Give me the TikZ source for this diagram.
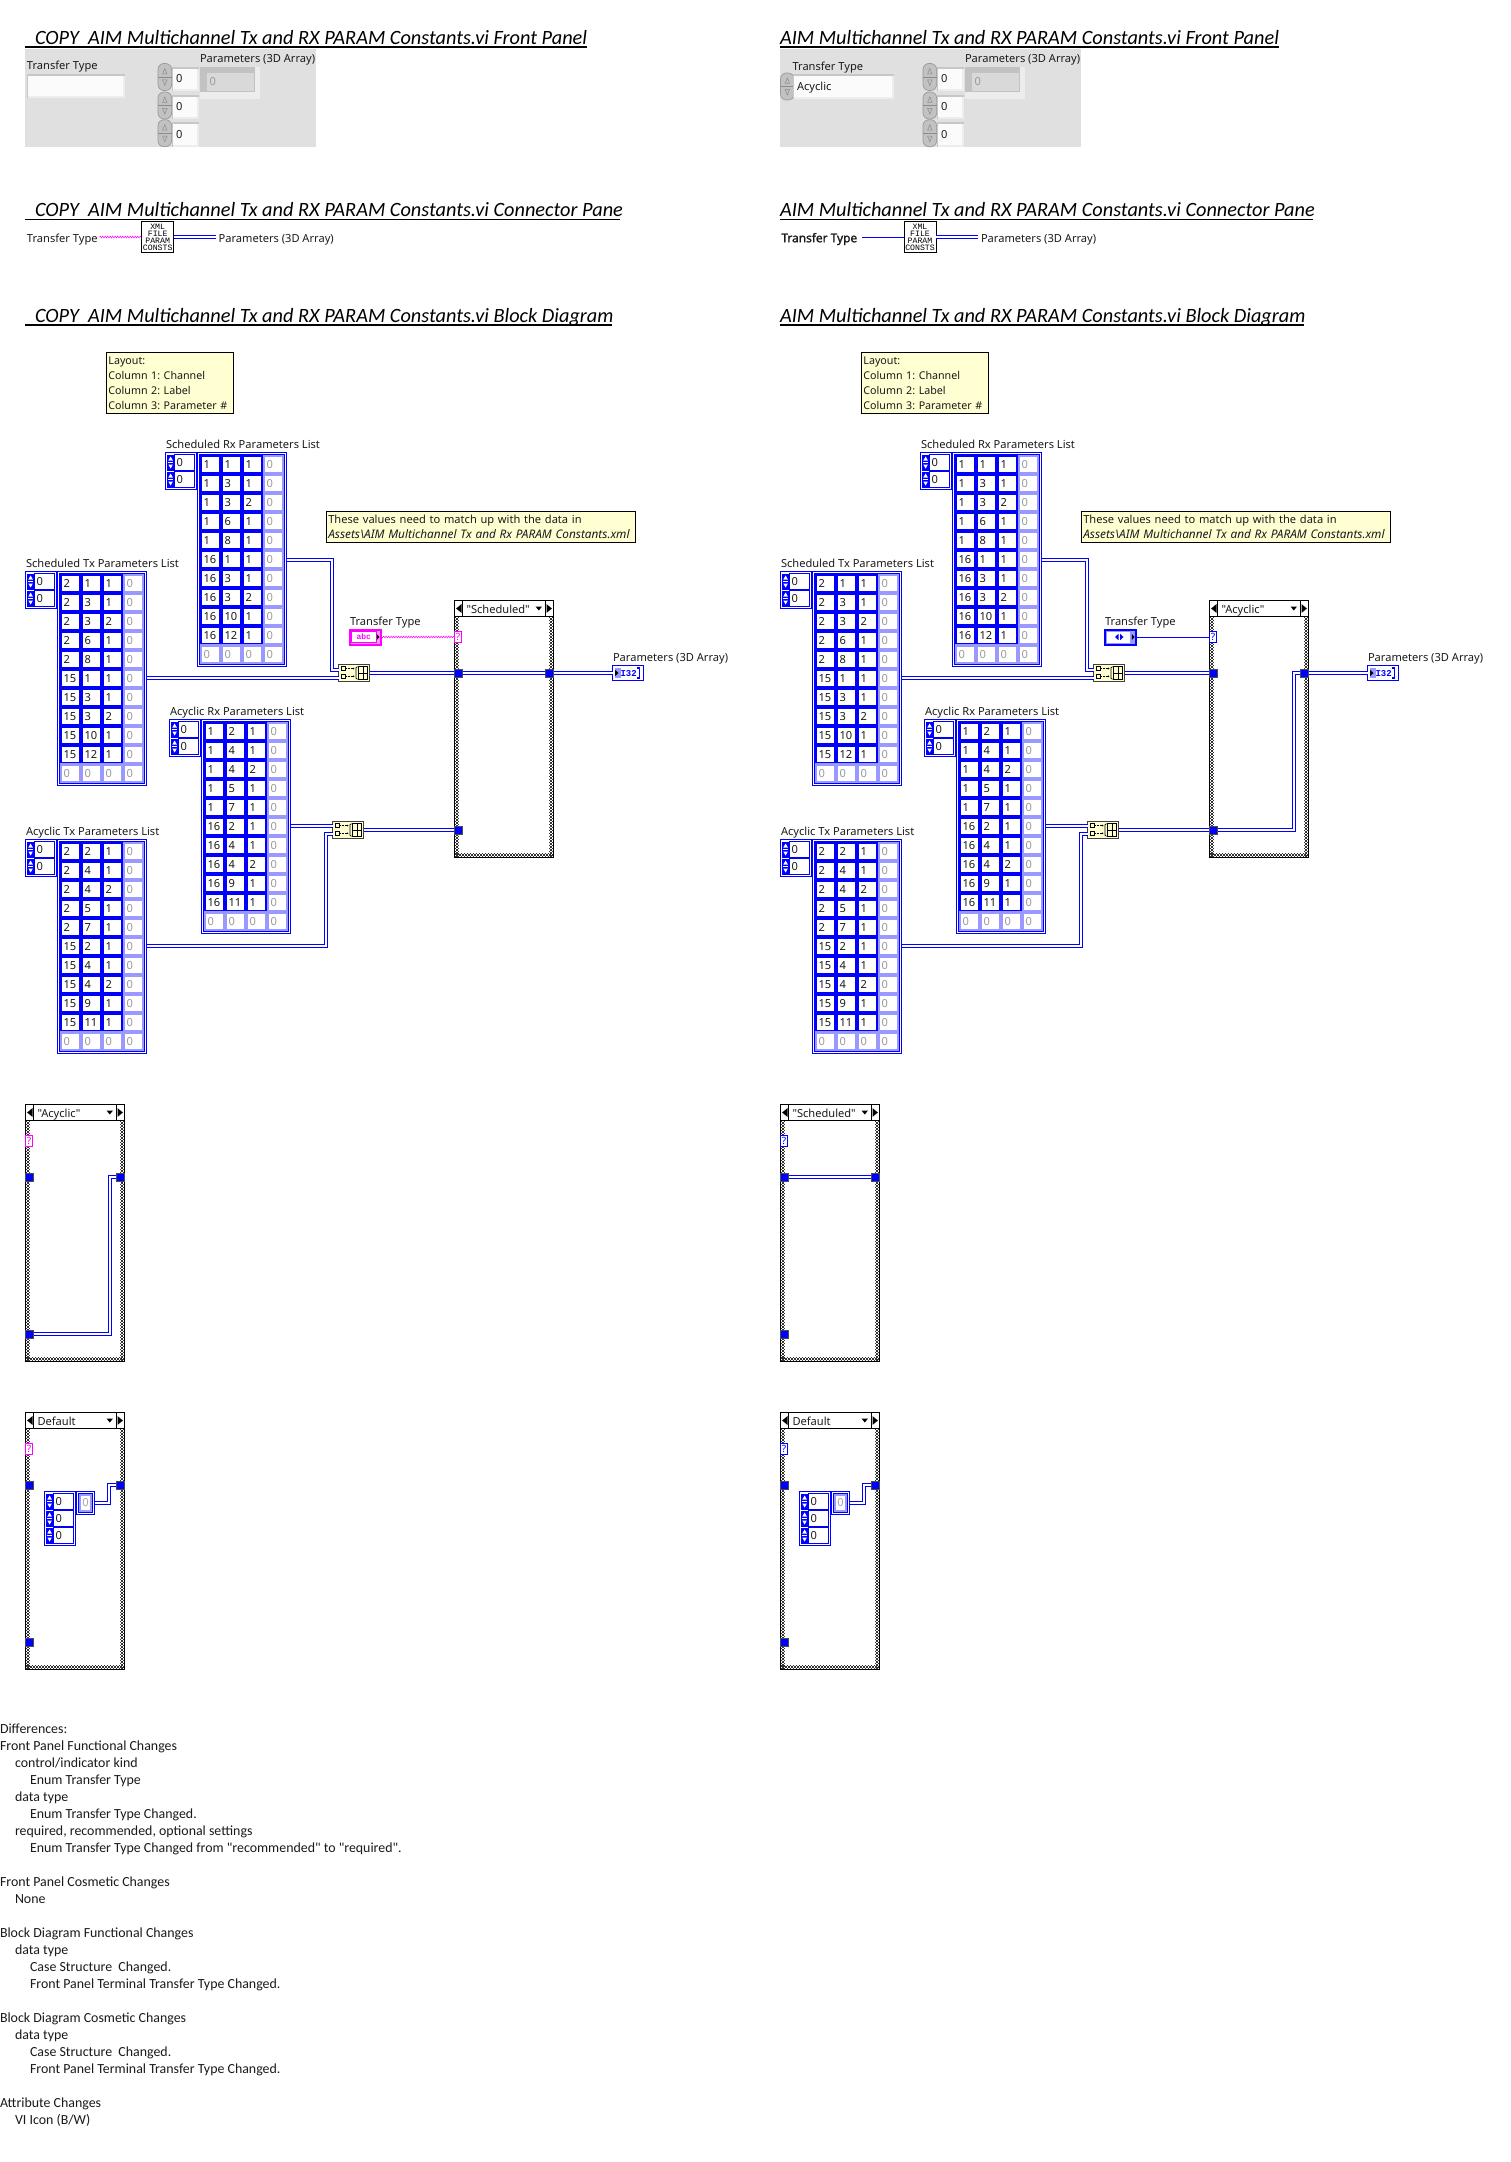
\documentclass[tikz,border=0pt]{standalone}
\usepackage{fontspec}
\newfontfamily\lvf{Noto Sans}
\newfontfamily\lvbf[FakeBold=1.6]{Noto Sans}
\newfontfamily\calf{Carlito}
\newfontfamily\monof{Liberation Mono}
\AtBeginDocument{\frenchspacing}
\usetikzlibrary{decorations.pathmorphing}
\definecolor{lvb}{HTML}{0000FF}
\definecolor{lvl}{HTML}{9999FF}
\definecolor{lvp}{HTML}{FF00FF}
\definecolor{lvpl}{HTML}{FF99FF}
\definecolor{lvy}{HTML}{FFFFD2}
\definecolor{lvt}{HTML}{1A1A1A}
\definecolor{fpg}{HTML}{E0E0E0}
\tikzset{
 wire/.style={draw=lvb,line width=1pt,double=white,double distance=2pt},
 swire/.style={draw=lvb,line width=1pt},
 pwire/.style={draw=lvp,line width=.5pt,decorate,decoration={zigzag,amplitude=.9pt,segment length=2.5pt}},
 lab/.style={inner sep=0pt,outer sep=0pt,font=\lvf\fontsize{11.1}{13}\selectfont,text=lvt},
 ttl/.style={inner sep=0pt,outer sep=0pt,anchor=base west,font=\calf\itshape\fontsize{20.3}{24}\selectfont,text=black},
 diff/.style={inner sep=0pt,outer sep=0pt,anchor=base west,font=\calf\fontsize{13.9}{17}\selectfont,text=lvt},
 cellb/.style={anchor=north west,fill=white,inner xsep=1.5pt,inner ysep=0pt,outer sep=0pt,text width=14pt,align=left,minimum height=15pt,font=\lvf\fontsize{11.1}{13}\selectfont},
 note/.style={draw=black,line width=1pt,fill=lvy,anchor=north west,inner sep=0pt,outer sep=0pt,align=left,font=\lvf\fontsize{11.1}{15}\selectfont,text=lvt},
 tunnel/.style={fill=black!70},
 uline/.style={draw=black,line width=1.6pt},
 chk/.style={black!80,line width=1.5pt,dash pattern=on 1.5pt off 1.5pt},
}
\newcommand\bx[7][]{\node[#7,inner sep=0pt,outer sep=0pt,anchor=north west,minimum width={((#5)-(#3))*1pt},minimum height={((#6)-(#4))*1pt}] (#2) at ({#3},{#4}) {#1};}
\newcommand\lab[4]{\node[lab,anchor=base west] (#1) at ({#2},{(#3)+4.4}) {#4};}
% array constant: name, x0, y0, rows
\newcommand\lvarray[4]{%
 \bx{#1}{#2}{#3}{(#2)+89}{(#3)+214}{fill=white,draw=lvb,line width=1pt}
 \fill[lvb] ({#2+1.5},{#3+1.5}) rectangle ({#2+87.5},{#3+212.5});
 \fill[lvl] ({#2+2.5},{#3+2.5}) rectangle ({#2+86.5},{#3+211.5});
 \fill[lvb] ({#2+2.5},{#3+2.5}) rectangle ({#2+65.5},{#3+191.5});
 \foreach \va/\vb/\vc [count=\r from 0] in {#4}{
   \node[cellb,text=lvt] (#1-\r-a) at ({#2+4.5},{#3+4.5+19*\r}) {\va};
   \node[cellb,text=lvt] (#1-\r-b) at ({#2+25.5},{#3+4.5+19*\r}) {\vb};
   \node[cellb,text=lvt] (#1-\r-c) at ({#2+46.5},{#3+4.5+19*\r}) {\vc};
   \node[cellb,text=black!40] (#1-\r-d) at ({#2+67.5},{#3+4.5+19*\r}) {0};
 }
 \node[cellb,text=black!40] (#1-z-a) at ({#2+4.5},{#3+194.5}) {0};
 \node[cellb,text=black!40] (#1-z-b) at ({#2+25.5},{#3+194.5}) {0};
 \node[cellb,text=black!40] (#1-z-c) at ({#2+46.5},{#3+194.5}) {0};
 \node[cellb,text=black!40] (#1-z-d) at ({#2+67.5},{#3+194.5}) {0};
}
% index display: name, x, y, rows
\newcommand\lvindex[4]{%
 \bx{#1}{#2}{#3}{(#2)+31}{(#3)+17*(#4)+3}{fill=white,draw=lvb,line width=1pt}
 \pgfmathtruncatemacro\nm{#4-1}
 \foreach \r in {0,...,\nm}{
   \pgfmathsetmacro\ry{#3+2+17*\r}
   \bx{#1r\r}{(#2)+9}{\ry}{(#2)+29}{\ry+16}{fill=white,draw=lvb,line width=1pt}
   \fill[lvb] ({#2+1.5},{\ry}) rectangle ({#2+9},{\ry+16});
   \fill[white] ({#2+5.1},{\ry+2}) -- ({#2+7.4},{\ry+6}) -- ({#2+2.8},{\ry+6}) -- cycle;
   \fill[white] ({#2+5.1},{\ry+14}) -- ({#2+7.4},{\ry+10}) -- ({#2+2.8},{\ry+10}) -- cycle;
   \fill[white] ({#2+2.8},{\ry+7.5}) rectangle ({#2+7.4},{\ry+8.5});
   \lab{#1t\r}{#2+11}{\ry+8}{0}
 }
}
% case structure: name,x1,y1,x2,y2,label
\newcommand\lvcase[6]{%
 \bx{#1}{#2}{#3}{#4}{#5}{fill=white}
 \foreach \o/\ph in {0/0pt,1/1.5pt,2/0pt}{
  \draw[chk,dash phase=\ph] ({#2+1+1.5*\o},{#3+16}) -- ({#2+1+1.5*\o},{#5});
  \draw[chk,dash phase=\ph] ({#4-1-1.5*\o},{#3+16}) -- ({#4-1-1.5*\o},{#5});
  \draw[chk,dash phase=\ph] ({#2},{#5-1-1.5*\o}) -- ({#4},{#5-1-1.5*\o});
 }
 \draw[black,line width=1pt] (#1.north west) rectangle (#1.south east);
 \draw[black,line width=1pt] ({#2},{#3+16}) -- ({#4},{#3+16});
 \draw[black,line width=1pt] ({#2+8},{#3}) -- ({#2+8},{#3+16});
 \draw[black,line width=1pt] ({#4-8},{#3}) -- ({#4-8},{#3+16});
 \fill[black] ({#2+1.6},{#3+8}) -- ({#2+7},{#3+3.6}) -- ({#2+7},{#3+12.4}) -- cycle;
 \fill[black] ({#4-1.6},{#3+8}) -- ({#4-7},{#3+3.6}) -- ({#4-7},{#3+12.4}) -- cycle;
 \fill[black] ({#4-18},{#3+6}) -- ({#4-11.5},{#3+6}) -- ({#4-14.7},{#3+10}) -- cycle;
 \lab{#1l}{#2+12}{#3+8.2}{#6}
}
\newcommand\lvbuild[3]{%
 \bx{#1}{#2}{#3}{(#2)+31}{(#3)+17}{fill=lvy,draw=black!75,line width=1pt}
 \draw[black,line width=.7pt] ({#2+3},{#3+2.2}) rectangle ++(3.6,3.6);
 \draw[black,line width=.7pt] ({#2+3},{#3+10}) rectangle ++(3.6,3.6);
 \draw[black,line width=.6pt,densely dotted] ({#2+7.5},{#3+4}) -- ({#2+14.5},{#3+4});
 \draw[black,line width=.6pt,densely dotted] ({#2+7.5},{#3+11.8}) -- ({#2+14.5},{#3+11.8});
 \fill[black] ({#2+16},{#3+4}) -- ({#2+14.5},{#3+3}) -- ({#2+14.5},{#3+5}) -- cycle;
 \fill[black] ({#2+16},{#3+11.8}) -- ({#2+14.5},{#3+10.8}) -- ({#2+14.5},{#3+12.8}) -- cycle;
 \draw[black,line width=.7pt] ({#2+19},{#3+2.2}) -- ({#2+17.5},{#3+3.2}) -- ({#2+17.5},{#3+13.8}) -- ({#2+19},{#3+14.8});
 \draw[black,line width=.7pt] ({#2+20},{#3+1.7}) rectangle ({#2+29},{#3+15.3});
 \draw[black,line width=.7pt] ({#2+24.5},{#3+1.7}) -- ({#2+24.5},{#3+15.3});
 \draw[black,line width=.7pt] ({#2+20},{#3+8.5}) -- ({#2+29},{#3+8.5});
}
% front panel parts
\newcommand\fpbox[5]{%
 \bx{#1}{#2}{#3}{#4}{#5}{fill=black!7}
 \fill[black!22] ({#2},{#3}) rectangle ({#4},{#3+2});
 \fill[black!22] ({#2},{#3}) rectangle ({#2+1.2},{#5});
 \fill[black!1.5] ({#2+1.2},{#3+2}) rectangle ({#4-2},{#5-2});
}
\newcommand\fpspin[3]{%
 \bx{#1}{#2}{#3}{(#2)+13.6}{(#3)+27}{fill=black!24,draw=black!40,line width=.7pt,rounded corners=6pt}
 \draw[black!45,line width=.5pt] ({#2},{#3+13.5}) -- ({#2+13.6},{#3+13.5});
 \draw[black!45,line width=.5pt] ({#2+6.8},{#3+5}) -- ({#2+9},{#3+10.5}) -- ({#2+4.6},{#3+10.5}) -- cycle;
 \draw[black!45,line width=.5pt] ({#2+6.8},{#3+22}) -- ({#2+9},{#3+16.5}) -- ({#2+4.6},{#3+16.5}) -- cycle;
}
\newcommand\fparray[3]{% prefix, dx from left position, dummy
 \fpspin{#1s1}{158+#2}{63.5}\fpspin{#1s2}{158+#2}{92}\fpspin{#1s3}{158+#2}{119.7}
 \fpbox{#1b1}{171.7+#2}{66.7}{199+#2}{90.7}
 \fpbox{#1b2}{171.7+#2}{95}{199+#2}{118.7}
 \fpbox{#1b3}{171.7+#2}{122}{199+#2}{146.7}
 \lab{#1z1}{176+#2}{78.5}{0}\lab{#1z2}{176+#2}{106.5}{0}\lab{#1z3}{176+#2}{134.5}{0}
 \bx{#1e}{199.7+#2}{66.7}{259.7+#2}{98.7}{fill=black!7}
 \fill[black!24] ({199.7+#2},{66.7}) rectangle ({255+#2},{92});
 \fill[black!15] ({206.5+#2},{73}) rectangle ({254+#2},{90.7});
 \node[lab,anchor=base west,text=black!40] (#1ez) at ({209.5+#2},{86}) {0};
 \lab{#1pl}{200+#2}{58}{Parameters (3D Array)}
}
\newcommand\icon[2]{%
 \node[draw=black,fill=white,line width=1pt,inner sep=0pt,outer sep=0pt,minimum width=32pt,minimum height=31.4pt,anchor=north west,align=center,font=\monof\fontsize{8.2}{7}\selectfont] (#1) at ({#2},221.3) {XML\\FILE\\PARAM\\CONSTS};
}
% common block diagram: prefix, main case label, 2nd case label, ? colour
\newcommand\bdcommon[4]{%
 \node[note,minimum width=126.7pt,minimum height=61.7pt,text width=124pt,inner xsep=1.5pt,font=\lvf\fontsize{10.7}{15}\selectfont] (#1n1) at (106.9,352) {Layout:\\Column 1: Channel\\Column 2: Label\\Column 3: Parameter \#};
 \node[note,minimum width=308.4pt,minimum height=30.6pt,text width=305pt,inner xsep=2pt] (#1n2) at (326.3,511.7) {These values need to match up with the data in\\\itshape\fontsize{11.8}{15}\selectfont Assets\textbackslash AIM Multichannel Tx and Rx PARAM Constants.xml};
 \lab{#1l1}{166}{444}{Scheduled Rx Parameters List}
 \lab{#1l2}{26}{562.7}{Scheduled Tx Parameters List}
 \lab{#1l3}{170}{710.7}{Acyclic Rx Parameters List}
 \lab{#1l4}{26}{831}{Acyclic Tx Parameters List}
 \lvindex{#1i1}{165.5}{452.5}{2}\lvindex{#1i2}{25.5}{571.5}{2}\lvindex{#1i3}{169.5}{719.5}{2}\lvindex{#1i4}{25.5}{839.5}{2}
 \lvarray{#1srx}{197.5}{452.5}{1/1/1,1/3/1,1/3/2,1/6/1,1/8/1,16/1/1,16/3/1,16/3/2,16/10/1,16/12/1}
 \lvarray{#1stx}{57.5}{571.5}{2/1/1,2/3/1,2/3/2,2/6/1,2/8/1,15/1/1,15/3/1,15/3/2,15/10/1,15/12/1}
 \lvarray{#1arx}{201.5}{719.5}{1/2/1,1/4/1,1/4/2,1/5/1,1/7/1,16/2/1,16/4/1,16/4/2,16/9/1,16/11/1}
 \lvarray{#1atx}{57.5}{839.5}{2/2/1,2/4/1,2/4/2,2/5/1,2/7/1,15/2/1,15/4/1,15/4/2,15/9/1,15/11/1}
 \lvbuild{#1ba1}{338.5}{664.5}
 \lvbuild{#1ba2}{332.5}{821.5}
 \lvcase{#1c1}{454.5}{600.5}{553.5}{857.5}{#2}
 \lvcase{#1c2}{25.5}{1104.5}{124.5}{1361.5}{#3}
 \lvcase{#1c3}{25.5}{1412.5}{124.5}{1669.5}{Default}
 \foreach \nn/\ax/\cy in {c1tl/454/673,c1tr/545/673,c1bl/454/830,c2tl/25/1177,c2tr/116/1177,c2bl/25/1334,c3tl/25/1485,c3tr/116/1485,c3bl/25/1642}{
   \bx{#1\nn}{\ax}{\cy-4.5}{\ax+9}{\cy+4.5}{tunnel}
   \fill[lvb] ({\ax+1},{\cy-3.5}) rectangle ({\ax+8},{\cy+3.5});
 }
 \foreach \nn/\ax/\ay in {c1q/454.5/631.5,c2q/25.5/1135.5,c3q/25.5/1443.5}{
   \bx[\textcolor{#4}{\lvf\fontsize{10}{10}\selectfont ?}]{#1\nn}{\ax}{\ay}{\ax+7}{\ay+11}{fill=white,draw=#4,line width=1pt}
 }
 \lab{#1tl}{350}{621}{Transfer Type}
 \lab{#1ol}{613}{656.7}{Parameters (3D Array)}
 \bx{#1ind}{612.5}{665.5}{643.5}{680.5}{fill=white,draw=lvb,line width=1pt}
 \fill[lvl] (615,668) rectangle (620.5,678);
 \fill[black] (618.5,673) -- (615.2,670) -- (615.2,676) -- cycle;
 \node[inner sep=0pt,outer sep=0pt,anchor=base west,font=\monof\bfseries\fontsize{9}{9}\selectfont,text=lvb] (#1indt) at (620.5,676) {I32};
 \draw[lvb,line width=1.2pt] (637,668) -- (639.5,668) -- (639.5,678) -- (637,678);
 % default case constants
 \lvindex{#1di}{44.5}{1491.5}{3}
 \bx{#1da}{76.5}{1491.5}{94.5}{1514.5}{fill=white,draw=lvb,line width=1pt}
 \fill[lvb] (78,1493) rectangle (93,1513);
 \fill[lvl] (79,1494) rectangle (92,1512);
 \node[cellb,text width=9pt,inner xsep=0pt,minimum height=14pt,align=center,text=black!35] (#1daz) at (81,1496) {0};
 % wires
 \coordinate (#1y1) at (332,560);
 \coordinate (#1w1) at (332,670);
 \coordinate (#1ba1i) at (338.5,670);
 \coordinate (#1ba1j) at (338.5,678);
 \coordinate (#1ba2i) at (332.5,826);
 \coordinate (#1y2) at (326,946);
 \coordinate (#1w2) at (326,834);
 \coordinate (#1ba2j) at (332.5,834);
 \draw[wire] (#1srx.east |- #1y1) -- (#1y1) -- (#1w1) -- (#1ba1i);
 \draw[wire] (#1stx.east |- #1ba1j) -- (#1ba1j);
 \draw[wire] (#1arx.east |- #1ba2i) -- (#1ba2i);
 \draw[wire] (#1atx.east |- #1y2) -- (#1y2) -- (#1w2) -- (#1ba2j);
 \draw[wire] (#1ba1.east) -- (#1c1tl.west);
 \draw[wire] (#1ba2.east) -- (#1c1bl.west);
 \draw[wire] (#1c1tr.east) -- (#1ind.west);
 \coordinate (#1w3) at (109,1485);
 \draw[wire] (#1da.east) -| (#1w3) -- (#1c3tr.west);
}
\begin{document}
\begin{tikzpicture}[x=1pt,y=-1pt]
\useasboundingbox (0,0) rectangle (1510,2162);
\fill[white] (0,0) rectangle (1510,2162);
% ---- titles
\node[ttl] (t1) at (35,45) {COPY\ \ AIM Multichannel Tx and RX PARAM Constants.vi Front Panel};
\node[ttl] (t2) at (35,217) {COPY\ \ AIM Multichannel Tx and RX PARAM Constants.vi Connector Pane};
\node[ttl] (t3) at (35,322.7) {COPY\ \ AIM Multichannel Tx and RX PARAM Constants.vi Block Diagram};
\draw[uline] (25,47.3) -- (586.5,47.3);
\draw[uline] (25,219.3) -- (620,219.3);
\draw[uline] (25,325) -- (612,325);
\node[ttl] (u1) at (780,45) {AIM Multichannel Tx and RX PARAM Constants.vi Front Panel};
\node[ttl] (u2) at (780,217) {AIM Multichannel Tx and RX PARAM Constants.vi Connector Pane};
\node[ttl] (u3) at (780,322.7) {AIM Multichannel Tx and RX PARAM Constants.vi Block Diagram};
\draw[uline] (780,47.3) -- (1278.5,47.3);
\draw[uline] (780,219.3) -- (1312.9,219.3);
\draw[uline] (780,325) -- (1303.7,325);
% ---- left front panel
\bx{pl}{25}{49.3}{316}{146.7}{fill=fpg}
\lab{pltt}{27}{65}{Transfer Type}
\fpbox{plbox}{26.5}{74}{124.5}{97.7}
\fparray{pla}{0}{}
% ---- right front panel
\bx{pr}{780}{49.3}{1081.2}{146.7}{fill=fpg}
\lab{prtt}{792.5}{66}{Transfer Type}
\fpspin{prs}{780.5}{73}
\fpbox{prbox}{793}{74}{893.6}{98.7}
\lab{prac}{797}{86.5}{Acyclic}
\fparray{pra}{765}{}
% ---- connector panes
\lab{cl1}{27}{238}{Transfer Type}
\icon{icl}{141.7}
\coordinate (cla) at (99.6,237);
\draw[pwire] (cla) -- (icl.west |- cla);
\lab{cl2}{218.6}{238}{Parameters (3D Array)}
\draw[wire] (icl.east |- cla) -- ([xshift=-3pt]cl2.west |- cla);
\node[lab,anchor=base west,font=\lvbf\fontsize{11.9}{13}\selectfont] (cr1) at (781.4,242.2) {Transfer Type};
\icon{icr}{904}
\coordinate (cra) at (862,237);
\draw[swire] (cra) -- (icr.west |- cra);
\lab{cr2}{981}{238}{Parameters (3D Array)}
\draw[wire] (icr.east |- cra) -- ([xshift=-3pt]cr2.west |- cra);
% ---- left block diagram
\bdcommon{L}{"Scheduled"}{"Acyclic"}{lvp}
\bx{Lctl}{349.5}{629.5}{380.5}{644.5}{fill=lvpl,draw=lvp,line width=2pt}
\bx[\textcolor{lvp}{\fontsize{8}{8}\selectfont\monof\bfseries abc}]{Lctli}{351.5}{631.5}{376}{642.5}{fill=white,draw=lvp,line width=1pt}
\fill[black] (379.5,637) -- (376.8,634) -- (376.8,640) -- cycle;
\draw[pwire] (Lctl.east) -- (Lc1q.west);
\draw[wire] (Lc1tl.east) -- (Lc1tr.west);
\coordinate (Lw4) at (110,1177);
\draw[wire] (Lc2bl.east) -| (Lw4) -- (Lc2tr.west);
% ---- right block diagram
\begin{scope}[shift={(755,0)}]
\bdcommon{R}{"Acyclic"}{"Scheduled"}{lvb}
\bx{Rctl}{349.5}{629.5}{380.5}{644.5}{fill=lvl,draw=lvb,line width=2pt}
\bx{Rctli}{351.5}{631.5}{374.5}{642.5}{fill=white}
\fill[lvb] (360,637) -- (363.5,633.8) -- (363.5,640.2) -- cycle;
\fill[lvb] (368.5,637) -- (365,633.8) -- (365,640.2) -- cycle;
\fill[black] (379.5,637) -- (376.8,634) -- (376.8,640) -- cycle;
\draw[swire] (Rctl.east) -- (Rc1q.west);
\coordinate (Rw4) at (539,673);
\draw[wire] (Rc1bl.east) -| (Rw4) -- (Rc1tr.west);
\draw[wire] (Rc2tl.east) -- (Rc2tr.west);
\end{scope}
% ---- differences
\newcommand\dl[4]{\node[diff] (#1) at ({#2},{1733.7+17*#3}) {#4};}
\dl{d0}{0}{0}{Differences:}
\dl{d1}{0}{1}{Front Panel Functional Changes}
\dl{d2}{15}{2}{control/indicator kind}
\dl{d3}{30}{3}{Enum Transfer Type}
\dl{d4}{15}{4}{data type}
\dl{d5}{30}{5}{Enum Transfer Type Changed.}
\dl{d6}{15}{6}{required, recommended, optional settings}
\dl{d7}{30}{7}{Enum Transfer Type Changed from "recommended" to "required".}
\dl{d9}{0}{9}{Front Panel Cosmetic Changes}
\dl{d10}{15}{10}{None}
\dl{d12}{0}{12}{Block Diagram Functional Changes}
\dl{d13}{15}{13}{data type}
\dl{d14}{30}{14}{Case Structure\ \ Changed.}
\dl{d15}{30}{15}{Front Panel Terminal Transfer Type Changed.}
\dl{d17}{0}{17}{Block Diagram Cosmetic Changes}
\dl{d18}{15}{18}{data type}
\dl{d19}{30}{19}{Case Structure\ \ Changed.}
\dl{d20}{30}{20}{Front Panel Terminal Transfer Type Changed.}
\dl{d22}{0}{22}{Attribute Changes}
\dl{d23}{15}{23}{VI Icon (B/W)}
\end{tikzpicture}
\end{document}
